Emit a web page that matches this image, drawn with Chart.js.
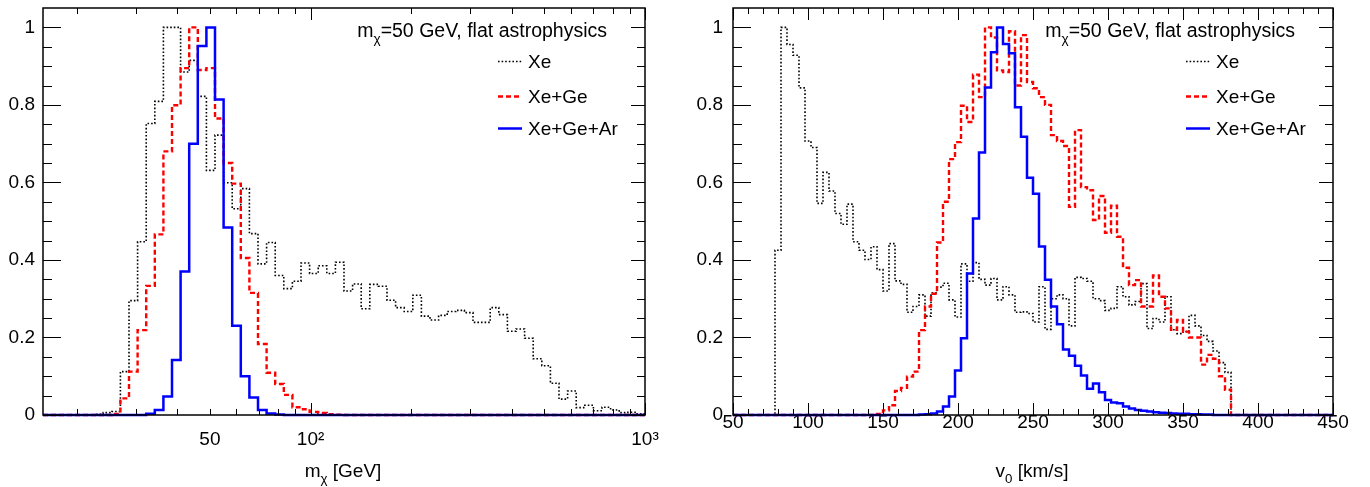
<!DOCTYPE html>
<html>
<head>
<meta charset="utf-8">
<title>m_chi and v0 reconstruction</title>
<script src="https://cdn.jsdelivr.net/npm/chart.js@4.4.1/dist/chart.umd.min.js"></script>
<style>
  html, body { margin: 0; padding: 0; background: #fff; }
  #wrap { display: flex; width: 1370px; height: 487px; }
  canvas { display: block; }
</style>
</head>
<body>
<div id="wrap">
  <canvas id="massChart" width="685" height="487"></canvas>
  <canvas id="speedChart" width="685" height="487"></canvas>
</div>
<script>
// ---- binning (histogram axes) ----
const massLogRange = [1.2, 3.0];      // log10(GeV)
const massBinCount = 70;
const speedRange = [50, 450];         // km/s
const speedBinCount = 100;

// ---- labels ----
const seriesNames = ['Xe', 'Xe+Ge', 'Xe+Ge+Ar'];
const headerParts = [['m', false], ['\u03c7', true], ['=50 GeV, flat astrophysics', false]];
const massTitleParts = [['m', false], ['\u03c7', true], [' [GeV]', false]];
const speedTitleParts = [['v', false], ['0', true], [' [km/s]', false]];

// ---- tick labels ----
const massTickValues = [50, 100, 1000];
const massTickLabels = ['50', '10\u00b2', '10\u00b3'];
const speedTickValues = [50, 100, 150, 200, 250, 300, 350, 400, 450];
const yTickValues = [0, 0.2, 0.4, 0.6, 0.8, 1];
const yTickLabels = ['0', '0.2', '0.4', '0.6', '0.8', '1'];

// ---- left panel: m_chi posterior, 70 log bins ----
const massXe = [
  0, 0, 0, 0, 0, 0, 0.002, 0.006, 0.009, 0.112,
  0.295, 0.447, 0.752, 0.809, 1.0, 1.0, 0.885, 0.915, 0.822, 0.631,
  0.722, 0.599, 0.532, 0.584, 0.468, 0.390, 0.445, 0.360, 0.326, 0.345,
  0.392, 0.365, 0.385, 0.365, 0.394, 0.320, 0.338, 0.274, 0.337, 0.332,
  0.296, 0.277, 0.267, 0.309, 0.255, 0.245, 0.257, 0.267, 0.270, 0.264,
  0.239, 0.239, 0.277, 0.259, 0.216, 0.222, 0.198, 0.145, 0.127, 0.082,
  0.041, 0.062, 0.019, 0.025, 0.011, 0.020, 0.013, 0.006, 0.007, 0.003
];
const massXeGe = [
  0, 0, 0, 0, 0, 0, 0, 0, 0.003, 0.043,
  0.112, 0.219, 0.333, 0.466, 0.680, 0.799, 0.895, 1.0, 0.890, 0.895,
  0.765, 0.650, 0.597, 0.405, 0.315, 0.183, 0.109, 0.080, 0.052, 0.020,
  0.015, 0.008, 0.005, 0.002, 0.001, 0, 0, 0, 0, 0,
  0, 0, 0, 0, 0, 0, 0, 0, 0, 0,
  0, 0, 0, 0, 0, 0, 0, 0, 0, 0,
  0, 0, 0, 0, 0, 0, 0, 0, 0, 0
];
const massXeGeAr = [
  0, 0, 0, 0, 0, 0, 0, 0, 0, 0,
  0, 0, 0.003, 0.013, 0.048, 0.142, 0.370, 0.700, 0.952, 1.0,
  0.814, 0.484, 0.230, 0.100, 0.045, 0.013, 0.004, 0.001, 0, 0,
  0, 0, 0, 0, 0, 0, 0, 0, 0, 0,
  0, 0, 0, 0, 0, 0, 0, 0, 0, 0,
  0, 0, 0, 0, 0, 0, 0, 0, 0, 0,
  0, 0, 0, 0, 0, 0, 0, 0, 0, 0
];

// ---- right panel: v0 posterior, 100 bins of 4 km/s ----
const speedXe = [
  0, 0, 0, 0, 0, 0, 0, 0.425, 1.0, 0.956,
  0.928, 0.844, 0.707, 0.690, 0.546, 0.626, 0.578, 0.520, 0.492, 0.544,
  0.447, 0.425, 0.401, 0.434, 0.375, 0.320, 0.442, 0.346, 0.337, 0.265,
  0.280, 0.310, 0.255, 0.315, 0.330, 0.340, 0.297, 0.253, 0.390, 0.345,
  0.393, 0.350, 0.335, 0.352, 0.297, 0.331, 0.310, 0.265, 0.266, 0.262,
  0.240, 0.331, 0.221, 0.300, 0.310, 0.300, 0.230, 0.355, 0.352, 0.345,
  0.300, 0.295, 0.270, 0.275, 0.331, 0.305, 0.284, 0.293, 0.339, 0.223,
  0.249, 0.240, 0.305, 0.220, 0.210, 0.215, 0.257, 0.230, 0.205, 0.190,
  0.165, 0.135, 0.110, 0, 0, 0, 0, 0, 0, 0,
  0, 0, 0, 0, 0, 0, 0, 0, 0, 0
];
const speedXeGe = [
  0, 0, 0, 0, 0, 0, 0, 0, 0, 0,
  0, 0, 0, 0, 0, 0, 0, 0, 0, 0,
  0, 0, 0, 0, 0.003, 0.012, 0.025, 0.062, 0.070, 0.099,
  0.112, 0.219, 0.280, 0.313, 0.445, 0.550, 0.660, 0.704, 0.798, 0.756,
  0.878, 0.820, 1.0, 0.974, 0.889, 0.885, 0.990, 0.850, 0.980, 0.859,
  0.843, 0.820, 0.800, 0.722, 0.707, 0.694, 0.537, 0.735, 0.588, 0.580,
  0.503, 0.565, 0.470, 0.540, 0.460, 0.380, 0.335, 0.348, 0.280, 0.280,
  0.360, 0.305, 0.275, 0.220, 0.245, 0.215, 0.200, 0.200, 0.130, 0.155,
  0.145, 0.100, 0.065, 0, 0, 0, 0, 0, 0, 0,
  0, 0, 0, 0, 0, 0, 0, 0, 0, 0
];
const speedXeGeAr = [
  0, 0, 0, 0, 0, 0, 0, 0, 0, 0,
  0, 0, 0, 0, 0, 0, 0, 0, 0, 0,
  0, 0, 0, 0, 0, 0, 0, 0, 0, 0,
  0, 0.001, 0.002, 0.004, 0.009, 0.022, 0.048, 0.115, 0.198, 0.365,
  0.507, 0.677, 0.845, 0.936, 1.0, 0.957, 0.933, 0.794, 0.718, 0.612,
  0.571, 0.435, 0.349, 0.280, 0.234, 0.169, 0.153, 0.127, 0.102, 0.068,
  0.081, 0.059, 0.039, 0.032, 0.030, 0.022, 0.017, 0.013, 0.011, 0.009,
  0.007, 0.006, 0.005, 0.004, 0.003, 0.003, 0.002, 0.002, 0.001, 0.001,
  0, 0, 0, 0, 0, 0, 0, 0, 0, 0,
  0, 0, 0, 0, 0, 0, 0, 0, 0, 0
];

const fontFamily = '"Liberation Sans", Arial, Helvetica, sans-serif';
const lineStyles = [
  { borderColor: '#000000', borderWidth: 1.6, borderDash: [1.6, 2.0], order: 2 },
  { borderColor: '#ff0000', borderWidth: 2.4, borderDash: [5, 3], order: 1 },
  { borderColor: '#0000ff', borderWidth: 2.5, borderDash: [], order: 0 }
];

function binEdges(lo, hi, n, isLog) {
  const edges = [];
  for (let i = 0; i <= n; i++) {
    const t = lo + (hi - lo) * i / n;
    edges.push(isLog ? Math.pow(10, t) : t);
  }
  return edges;
}

// one point per bin edge, the last bin is closed at the upper edge
function histPoints(edges, values) {
  const pts = values.map((v, i) => ({ x: edges[i], y: v }));
  pts.push({ x: edges[edges.length - 1], y: values[values.length - 1] });
  return pts;
}

function makeDatasets(edges, seriesList) {
  return seriesList.map((vals, k) => Object.assign({
    label: seriesNames[k],
    data: histPoints(edges, vals),
    stepped: true,
    pointRadius: 0,
    fill: false,
    tension: 0,
    clip: false,
    borderJoinStyle: 'miter'
  }, lineStyles[k]));
}

function drawParts(ctx, parts, x, y, align, size) {
  const widths = parts.map(p => {
    ctx.font = (p[1] ? size * 0.7 : size) + 'px ' + fontFamily;
    return ctx.measureText(p[0]).width;
  });
  const total = widths.reduce((a, b) => a + b, 0);
  let cx = align === 'right' ? x - total : (align === 'center' ? x - total / 2 : x);
  ctx.textAlign = 'left';
  ctx.textBaseline = 'alphabetic';
  parts.forEach((p, i) => {
    ctx.font = (p[1] ? size * 0.7 : size) + 'px ' + fontFamily;
    ctx.fillText(p[0], cx, p[1] ? y + size * 0.3 : y);
    cx += widths[i];
  });
}

// ROOT-like frame: ticks inside on all four sides, legend box text, axis title
const rootFrame = {
  id: 'rootFrame',
  afterDraw(chart, _args, opts) {
    const { ctx, chartArea: a, scales } = chart;
    const xs = scales.x, ys = scales.y;
    ctx.save();
    ctx.strokeStyle = '#000';
    ctx.lineWidth = 1;
    ctx.setLineDash([]);
    ctx.beginPath();
    opts.xTicks.forEach(t => {
      const px = Math.round(xs.getPixelForValue(t.v)) + 0.5;
      const len = t.major ? 12 : 6;
      ctx.moveTo(px, a.bottom); ctx.lineTo(px, a.bottom - len);
      ctx.moveTo(px, a.top); ctx.lineTo(px, a.top + len);
    });
    opts.yTicks.forEach(t => {
      const py = Math.round(ys.getPixelForValue(t.v)) + 0.5;
      ctx.moveTo(a.left, py); ctx.lineTo(a.left + (t.major ? 18 : 9), py);
      ctx.moveTo(a.right, py); ctx.lineTo(a.right - (t.major ? 14 : 8), py);
    });
    ctx.stroke();
    ctx.lineWidth = 1.5;
    ctx.strokeRect(a.left, a.top, a.right - a.left, a.bottom - a.top);

    // legend
    ctx.fillStyle = '#000';
    drawParts(ctx, headerParts, a.right - 38, 37, 'right', 19.5);
    const rows = [61, 96, 128];
    chart.data.datasets.forEach((ds, i) => {
      ctx.save();
      ctx.strokeStyle = ds.borderColor;
      ctx.lineWidth = ds.borderWidth;
      ctx.setLineDash(ds.borderDash);
      ctx.beginPath();
      ctx.moveTo(a.right - 147, rows[i] + 0.5);
      ctx.lineTo(a.right - 123, rows[i] + 0.5);
      ctx.stroke();
      ctx.restore();
      drawParts(ctx, [[ds.label, false]], a.right - 117, rows[i] + 7, 'left', 19);
    });

    // axis title
    drawParts(ctx, opts.title, (a.left + a.right) / 2 - 1, 477, 'center', 19);
    ctx.restore();
  }
};

function makeChart(canvasId, cfg) {
  return new Chart(document.getElementById(canvasId), {
    type: 'line',
    data: { datasets: cfg.datasets },
    plugins: [rootFrame],
    options: {
      responsive: false,
      maintainAspectRatio: false,
      devicePixelRatio: 1,
      animation: false,
      events: [],
      layout: { padding: { top: 8, right: cfg.padRight, left: 0, bottom: 0 } },
      plugins: {
        legend: { display: false },
        tooltip: { enabled: false },
        rootFrame: { xTicks: cfg.xTicks, yTicks: cfg.yTicks, title: cfg.title }
      },
      scales: {
        x: {
          type: cfg.xType,
          min: cfg.xMin,
          max: cfg.xMax,
          grid: { display: false, drawTicks: false },
          border: { display: false },
          ticks: {
            autoSkip: false,
            maxRotation: 0,
            color: '#000',
            padding: cfg.xLabelPad,
            font: { family: fontFamily, size: 19, lineHeight: 1 },
            callback: (v, i) => cfg.xLabels[i]
          },
          afterBuildTicks: s => { s.ticks = cfg.xTickValues.map(v => ({ value: v })); },
          afterFit: s => { s.height = 72; s.paddingLeft = 0; s.paddingRight = 0; }
        },
        y: {
          min: 0,
          max: 1.05,
          grid: { display: false, drawTicks: false },
          border: { display: false },
          ticks: {
            color: '#000',
            padding: cfg.yLabelPad,
            font: { family: fontFamily, size: 19, lineHeight: 1 },
            callback: (v, i) => yTickLabels[i]
          },
          afterBuildTicks: s => { s.ticks = yTickValues.map(v => ({ value: v })); },
          afterFit: s => { s.width = cfg.yWidth; s.paddingTop = 0; s.paddingBottom = 0; }
        }
      }
    }
  });
}

// tick marks along the frame (positions only)
const yMarks = [];
for (let k = 0; k <= 20; k++) yMarks.push({ v: k * 0.05, major: k % 4 === 0 });

const massMarks = [];
[10, 100].forEach(d => {
  for (let m = 2; m <= 9; m++) massMarks.push({ v: m * d, major: false });
});
massMarks.push({ v: 100, major: true }, { v: 1000, major: true });

const speedMarks = [];
for (let k = 0; k <= 40; k++) speedMarks.push({ v: 50 + 10 * k, major: k % 5 === 0 });

const massEdges = binEdges(massLogRange[0], massLogRange[1], massBinCount, true);
const speedEdges = binEdges(speedRange[0], speedRange[1], speedBinCount, false);

makeChart('massChart', {
  datasets: makeDatasets(massEdges, [massXe, massXeGe, massXeGeAr]),
  xType: 'logarithmic',
  xMin: massEdges[0],
  xMax: massEdges[massEdges.length - 1],
  xTickValues: massTickValues,
  xLabels: massTickLabels,
  xLabelPad: 15.5,
  yLabelPad: 8,
  yWidth: 43,
  padRight: 40,
  xTicks: massMarks,
  yTicks: yMarks,
  title: massTitleParts
});

makeChart('speedChart', {
  datasets: makeDatasets(speedEdges, [speedXe, speedXeGe, speedXeGeAr]),
  xType: 'linear',
  xMin: speedRange[0],
  xMax: speedRange[1],
  xTickValues: speedTickValues,
  xLabels: speedTickValues.map(String),
  xLabelPad: -1.5,
  yLabelPad: 10,
  yWidth: 48,
  padRight: 37,
  xTicks: speedMarks,
  yTicks: yMarks,
  title: speedTitleParts
});
</script>
</body>
</html>
